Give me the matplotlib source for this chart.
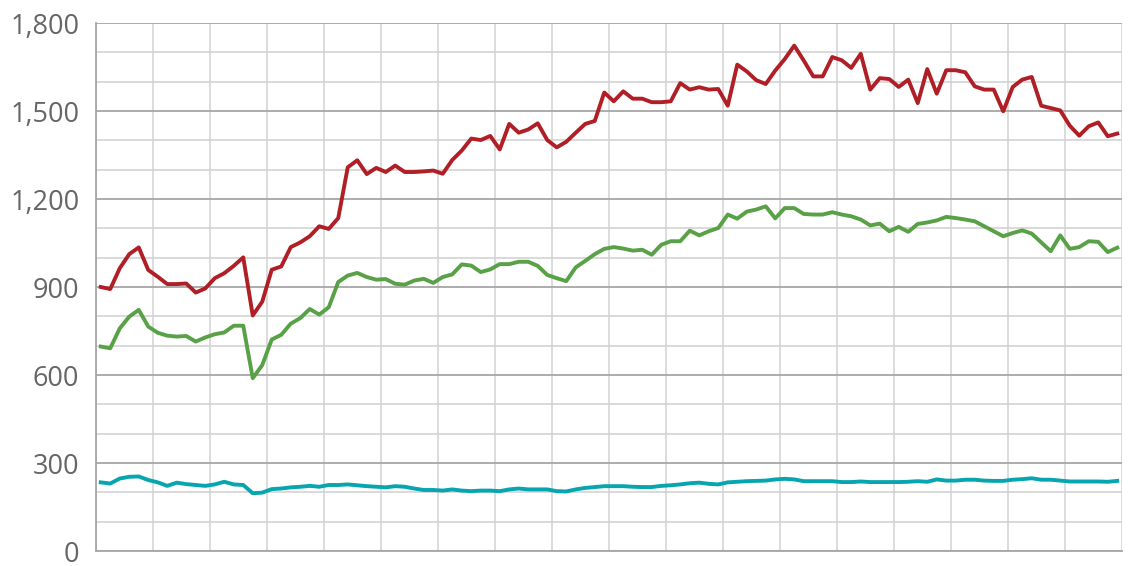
import numpy as np
import matplotlib
matplotlib.use("Agg")
import matplotlib.pyplot as plt
from matplotlib.ticker import FuncFormatter, MultipleLocator

plt.rcParams['font.family'] = ['Open Sans', 'DejaVu Sans']

# monthly values (108 points)
red_series = [
    900, 893, 964, 1012, 1035, 958, 935, 910, 910, 912,
    881, 895, 930, 947, 972, 1001, 803, 850, 959, 970,
    1036, 1052, 1073, 1107, 1098, 1135, 1308, 1332, 1285, 1306,
    1292, 1314, 1292, 1292, 1294, 1297, 1286, 1333, 1365, 1406,
    1401, 1415, 1369, 1456, 1426, 1437, 1458, 1401, 1376, 1395,
    1426, 1456, 1466, 1563, 1533, 1567, 1542, 1542, 1530, 1530,
    1533, 1595, 1573, 1581, 1573, 1575, 1518, 1658, 1635, 1605,
    1592, 1638, 1677, 1723, 1672, 1618, 1618, 1684, 1673, 1647,
    1695, 1573, 1612, 1609, 1582, 1607, 1527, 1643, 1559, 1639,
    1639, 1632, 1584, 1573, 1573, 1499, 1582, 1607, 1616, 1518,
    1510, 1502, 1450, 1416, 1448, 1461, 1414, 1423,
]
green_series = [
    697, 691, 759, 799, 822, 765, 744, 734, 731, 733,
    714, 728, 739, 745, 768, 768, 589, 634, 721, 737,
    775, 794, 825, 806, 831, 917, 939, 948, 934, 925,
    927, 911, 908, 922, 928, 914, 934, 943, 977, 973,
    951, 960, 978, 978, 986, 986, 972, 941, 930, 920,
    967, 989, 1012, 1030, 1036, 1031, 1024, 1027, 1010, 1044,
    1056, 1056, 1092, 1076, 1090, 1101, 1147, 1133, 1157, 1164,
    1175, 1134, 1169, 1169, 1149, 1147, 1147, 1155, 1147, 1141,
    1130, 1110, 1116, 1090, 1105, 1088, 1115, 1120, 1127, 1139,
    1135, 1130, 1124, 1107, 1090, 1073, 1084, 1093, 1082, 1052,
    1022, 1076, 1030, 1036, 1056, 1054, 1019, 1034,
]
teal_series = [
    234, 230, 247, 253, 254, 242, 234, 222, 233, 228,
    225, 222, 227, 236, 227, 225, 197, 199, 211, 213,
    217, 219, 222, 219, 225, 225, 227, 224, 221, 219,
    217, 221, 219, 213, 208, 208, 206, 210, 206, 204,
    206, 206, 204, 210, 213, 210, 210, 210, 204, 203,
    210, 215, 218, 221, 221, 221, 219, 218, 218, 222,
    224, 227, 231, 233, 229, 227, 234, 236, 238, 239,
    240, 244, 246, 244, 238, 238, 238, 238, 235, 235,
    237, 235, 235, 235, 235, 236, 238, 236, 244, 240,
    240, 243, 243, 240, 239, 239, 243, 245, 248, 243,
    243, 240, 237, 237, 237, 237, 236, 239,
]
y_ticks = [0, 300, 600, 900, 1200, 1500, 1800]

months = np.arange(len(red_series))

fig = plt.figure(figsize=(11.28, 5.66), dpi=100)
ax = fig.add_axes([96 / 1128, 15 / 566, 1026 / 1128, 528 / 566])

ax.plot(months, red_series, color='#B01F26', lw=2.8, solid_joinstyle='round', zorder=3)
ax.plot(months, green_series, color='#58A147', lw=2.8, solid_joinstyle='round', zorder=3)
ax.plot(months, teal_series, color='#06A5AF', lw=2.8, solid_joinstyle='round', zorder=3)

ax.set_xlim(-0.5, len(red_series) - 0.5)
ax.set_ylim(0, 1800)

# vertical lines every 6 months, horizontal major/minor lines
ax.set_xticks(np.arange(-0.5, len(red_series), 6))
ax.set_xticklabels([])
ax.set_yticks(y_ticks)
ax.yaxis.set_minor_locator(MultipleLocator(100))
ax.yaxis.set_major_formatter(FuncFormatter(lambda v, p: f"{int(v):,}"))
ax.grid(axis='x', which='major', color='#D9D9D9', lw=1.3)
ax.grid(axis='y', which='major', color='#A6A6A6', lw=1.3)
ax.grid(axis='y', which='minor', color='#CFCFCF', lw=1.1)
ax.tick_params(axis='both', which='both', length=0)
ax.tick_params(axis='y', labelsize=19.5, labelcolor='#666666', pad=12)

for side in ['top', 'right']:
    ax.spines[side].set_visible(False)
ax.spines['left'].set_color('#A6A6A6')
ax.spines['bottom'].set_color('#A6A6A6')
ax.spines['left'].set_linewidth(1.3)
ax.spines['bottom'].set_linewidth(1.3)

fig.savefig('out.png', dpi=100)
